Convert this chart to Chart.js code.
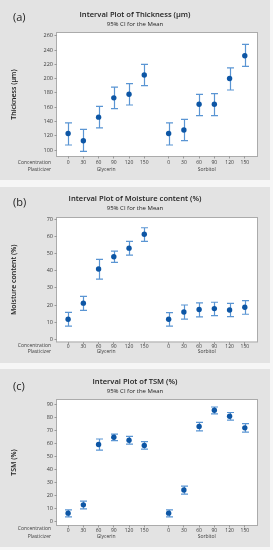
<!DOCTYPE html>
<html>
<head>
<meta charset="utf-8">
<script src="https://cdn.jsdelivr.net/npm/chart.js@4.4.1/dist/chart.umd.min.js"></script>
<style>
  body { margin: 0; width: 273px; height: 550px; background: #f6f6f6; position: relative; overflow: hidden; }
  .panel { position: absolute; left: 0; width: 270px; background: #e3e3e3; }
  canvas { display: block; }
</style>
</head>
<body>
<div class="panel" style="top:0;height:180px"><canvas id="thickness" width="270" height="180"></canvas></div>
<div class="panel" style="top:187px;height:176px"><canvas id="moisture" width="270" height="176"></canvas></div>
<div class="panel" style="top:369px;height:178px"><canvas id="tsm" width="270" height="178"></canvas></div>
<script>
const concentrations = ['0', '30', '60', '90', '120', '150'];
const plasticizers = ['Glycerin', 'Sorbitol'];

// means and 95% CI bounds, glycerin 0..150 then sorbitol 0..150
const thicknessMean = [123, 113, 146, 173, 178, 205, 123, 128, 164, 164, 200, 232];
const thicknessLow = [107, 98, 131, 158, 163, 190, 107, 113, 148, 148, 184, 217];
const thicknessHigh = [138, 129, 161, 188, 193, 220, 138, 143, 178, 179, 215, 248];

const moistureMean = [11.7, 21.1, 41, 48.2, 53.2, 61.3, 11.7, 15.9, 17.4, 17.9, 17.1, 18.7];
const moistureLow = [7.7, 16.9, 35.1, 44.9, 49.1, 57.1, 7.7, 11.8, 13.1, 13.8, 13.2, 14.6];
const moistureHigh = [15.7, 25.1, 46.7, 51.5, 57.2, 65.1, 15.6, 20, 21.2, 21.6, 21, 22.6];

const tsmMean = [6.6, 13, 59.4, 65, 62.6, 58.7, 6.6, 24.4, 73.3, 85.7, 81.1, 72.2];
const tsmLow = [3.8, 9.9, 55, 62.4, 59.6, 55.8, 3.8, 21.2, 69.9, 82.9, 78.1, 68.9];
const tsmHigh = [9.2, 15.9, 63.6, 67.4, 65.6, 61.6, 9.2, 27.4, 76.4, 88.2, 84, 75.4];

const thicknessTicks = [100, 120, 140, 160, 180, 200, 220, 240, 260];
const moistureTicks = [0, 10, 20, 30, 40, 50, 60, 70];
const tsmTicks = [0, 10, 20, 30, 40, 50, 60, 70, 80, 90];

// x slot of each interval: 6 per plasticizer with a gap between the groups
const groupGap = 6.6;
const slots = plasticizers.flatMap((p, g) => concentrations.map((c, j) => j + g * groupGap));

const FONT = '"Open Sans", "DejaVu Sans", sans-serif';
const dotBlue = '#0d56a5';
const barBlue = '#5a95d3';
const tickLen = 2.5;
const labelSize = 5;

const frame = {
  id: 'frame',
  beforeDraw(chart) {
    const { ctx, chartArea: a } = chart;
    ctx.save();
    ctx.fillStyle = '#fff';
    ctx.fillRect(a.left, a.top, a.width, a.height);
    ctx.strokeStyle = '#ababab';
    ctx.lineWidth = 1;
    ctx.strokeRect(a.left - 0.5, a.top - 0.5, a.width + 1, a.height + 1);
    ctx.restore();
  }
};

const errorBars = {
  id: 'errorBars',
  beforeDatasetsDraw(chart, args, opts) {
    const { ctx, scales: { x, y } } = chart;
    ctx.save();
    ctx.strokeStyle = barBlue;
    ctx.lineWidth = 1.2;
    opts.low.forEach((lo, i) => {
      const px = Math.round(x.getPixelForValue(slots[i])) + 0.5;
      const top = y.getPixelForValue(opts.high[i]);
      const bot = y.getPixelForValue(lo);
      ctx.beginPath();
      ctx.moveTo(px, top); ctx.lineTo(px, bot);
      ctx.moveTo(px - 3.5, top); ctx.lineTo(px + 3.5, top);
      ctx.moveTo(px - 3.5, bot); ctx.lineTo(px + 3.5, bot);
      ctx.stroke();
    });
    ctx.restore();
  }
};

// panel tag, row captions under the axis and the plasticizer group names
const panelText = {
  id: 'panelText',
  afterDraw(chart, args, opts) {
    const { ctx, scales: { x } } = chart;
    ctx.save();
    ctx.fillStyle = '#1e1e1e';
    ctx.font = `11px ${FONT}`;
    ctx.textAlign = 'left';
    ctx.textBaseline = 'middle';
    ctx.fillText(opts.tag, 13, opts.tagY);
    ctx.fillStyle = '#3c3c3c';
    ctx.font = `${labelSize}px ${FONT}`;
    ctx.textAlign = 'right';
    ctx.fillText('Concentration', 51, opts.row1);
    ctx.fillText('Plasticizer', 51, opts.row2);
    ctx.textAlign = 'center';
    plasticizers.forEach((p, g) => {
      ctx.fillText(p, x.getPixelForValue(2.5 + g * groupGap), opts.row2);
    });
    ctx.restore();
  }
};

function intervalPlot(id, cfg, lay) {
  const titleLh = 7.6 * 1.2;
  const subLh = 6 * 1.2;
  const titlePad = lay.titleY - titleLh / 2;
  const subPad = lay.subY - (titlePad + titleLh) - subLh / 2;
  const subBottom = lay.plotTop - (lay.subY + subLh / 2);
  const axisLh = 7 * 1.2;
  return new Chart(document.getElementById(id), {
    type: 'scatter',
    data: {
      datasets: [{
        data: cfg.mean.map((m, i) => ({ x: slots[i], y: m })),
        pointRadius: 2.7,
        pointBackgroundColor: dotBlue,
        pointBorderColor: dotBlue,
        pointBorderWidth: 0
      }]
    },
    options: {
      responsive: false,
      animation: false,
      layout: { padding: { left: 13, right: 13, top: 0, bottom: 0 } },
      plugins: {
        legend: { display: false },
        tooltip: { enabled: false },
        title: {
          display: true, text: cfg.title, color: '#222',
          font: { family: FONT, size: 7.6, weight: '600', lineHeight: 1.2 },
          padding: { top: titlePad, bottom: 0 }
        },
        subtitle: {
          display: true, text: '95% CI for the Mean', color: '#222',
          font: { family: FONT, size: 6, lineHeight: 1.2 },
          padding: { top: subPad, bottom: subBottom }
        },
        errorBars: { low: cfg.low, high: cfg.high },
        panelText: { tag: cfg.tag, tagY: lay.tagY, row1: lay.row1, row2: lay.row2 }
      },
      scales: {
        x: {
          type: 'linear', min: -0.73, max: 12.4,
          afterFit: s => { s.height = lay.h - lay.plotBottom; },
          afterBuildTicks: s => { s.ticks = slots.map(v => ({ value: v })); },
          ticks: {
            callback: (v, i) => concentrations[i % concentrations.length],
            autoSkip: false, maxRotation: 0,
            color: '#3c3c3c', font: { family: FONT, size: labelSize, lineHeight: 1.2 },
            padding: Math.max(0, lay.row1 - lay.plotBottom - tickLen - labelSize * 0.6)
          },
          grid: { drawOnChartArea: false, tickLength: tickLen, color: '#9a9a9a' },
          border: { display: false }
        },
        y: {
          min: cfg.min, max: cfg.max,
          afterFit: s => { s.width = 44; },
          afterBuildTicks: s => { s.ticks = cfg.ticks.map(v => ({ value: v })); },
          ticks: { color: '#3c3c3c', font: { family: FONT, size: 5.5 }, padding: 1.5 },
          grid: { drawOnChartArea: false, tickLength: tickLen, color: '#9a9a9a' },
          border: { display: false },
          title: {
            display: true, text: cfg.yTitle, color: '#222',
            font: { family: FONT, size: 7, weight: '600', lineHeight: 1.2 },
            padding: { top: 14 - 13 - axisLh / 2, bottom: 0 }
          }
        }
      }
    },
    plugins: [frame, errorBars, panelText]
  });
}

intervalPlot('thickness', {
  tag: '(a)', title: 'Interval Plot of Thickness (µm)', yTitle: 'Thickness (µm)',
  mean: thicknessMean, low: thicknessLow, high: thicknessHigh,
  ticks: thicknessTicks, min: 91.6, max: 263.8
}, { h: 180, tagY: 18, titleY: 15, subY: 24, plotTop: 33, plotBottom: 156, row1: 163, row2: 170 });

intervalPlot('moisture', {
  tag: '(b)', title: 'Interval Plot of Moisture content (%)', yTitle: 'Moisture content (%)',
  mean: moistureMean, low: moistureLow, high: moistureHigh,
  ticks: moistureTicks, min: -1.3, max: 70.8
}, { h: 176, tagY: 16, titleY: 12, subY: 21, plotTop: 31, plotBottom: 154.5, row1: 159, row2: 164.5 });

intervalPlot('tsm', {
  tag: '(c)', title: 'Interval Plot of TSM (%)', yTitle: 'TSM (%)',
  mean: tsmMean, low: tsmLow, high: tsmHigh,
  ticks: tsmTicks, min: -2.5, max: 93.6
}, { h: 178, tagY: 18, titleY: 12.7, subY: 22, plotTop: 31, plotBottom: 156, row1: 160, row2: 168 });
</script>
</body>
</html>
